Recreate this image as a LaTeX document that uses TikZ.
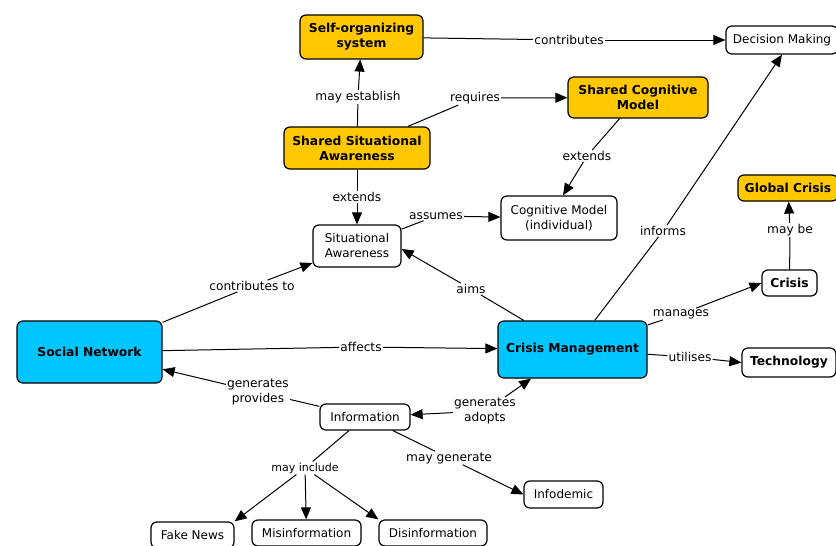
\documentclass[tikz,border=0pt]{standalone}
\usepackage{fontspec}
\setmainfont{DejaVu Sans}
\usetikzlibrary{arrows.meta,calc}
\definecolor{goldc}{RGB}{255,200,0}
\definecolor{cyanc}{RGB}{0,197,255}
\newcommand{\fsz}{\fontsize{12}{15}\selectfont}
\newcommand{\fsb}{\fontsize{12.3}{15}\selectfont\bfseries}
\newcommand{\fsl}{\fontsize{12.2}{14.5}\selectfont}
\newcommand{\fsm}{\fontsize{11}{13}\selectfont}
\begin{document}
\begin{tikzpicture}[x=1pt,y=-1pt,
  box/.style={draw, line width=1.2pt, rounded corners=6pt, inner sep=1pt, align=center, font=\fsz},
  goldbox/.style={box, fill=goldc, font=\fsb},
  cyanbox/.style={box, fill=cyanc, font=\fsb},
  boldbox/.style={box, font=\fsb},
  lbl/.style={fill=white, inner sep=1pt, font=\fsl, align=center},
  ln/.style={line width=1pt},
  arr/.style={line width=1pt, -{Triangle[length=12pt,width=10pt]}}]
\useasboundingbox (0,0) rectangle (836,546);
\fill[white] (0,0) rectangle (836,546);
% nodes
\node[goldbox, minimum width=123, minimum height=44] (selforg) at (361.5,37) {Self-organizing\\system};
\node[box, minimum width=112, minimum height=28] (dm) at (782,40) {Decision Making};
\node[goldbox, minimum width=140, minimum height=41] (scm) at (638,97.5) {Shared Cognitive\\Model};
\node[goldbox, minimum width=146, minimum height=42] (ssa) at (357,148) {Shared Situational\\Awareness};
\node[box, minimum width=116, minimum height=44] (cm) at (559,218) {Cognitive Model\\(individual)};
\node[goldbox, minimum width=100, minimum height=26] (gc) at (788,188) {Global Crisis};
\node[box, minimum width=88, minimum height=42] (sa) at (357,246) {Situational\\Awareness};
\node[boldbox, minimum width=55, minimum height=26] (crisis) at (789.5,283) {Crisis};
\node[cyanbox, minimum width=145, minimum height=62] (sn) at (89.5,352) {Social Network};
\node[cyanbox, minimum width=149, minimum height=57] (cmg) at (572.5,349.5) {Crisis Management};
\node[boldbox, minimum width=94, minimum height=29] (tech) at (789,362.5) {Technology};
\node[box, minimum width=90, minimum height=26] (info) at (365,417) {Information};
\node[box, minimum width=79, minimum height=27] (infod) at (563.5,494.5) {Infodemic};
\node[box, minimum width=83, minimum height=26] (fake) at (192.5,535) {Fake News};
\node[box, minimum width=109, minimum height=26] (misinfo) at (306.5,533) {Misinformation};
\node[box, minimum width=108, minimum height=26] (disinfo) at (433,533) {Disinformation};
% labels
\node[lbl] (lcontrib) at (569,40) {contributes};
\node[lbl] (lmayest) at (358,97) {may establish};
\node[lbl] (lreq) at (475,98) {requires};
\node[lbl] (lext1) at (587,156) {extends};
\node[lbl] (lext2) at (357,197) {extends};
\node[lbl] (lassumes) at (436,216) {assumes};
\node[lbl] (linforms) at (663,231) {informs};
\node[lbl] (lmaybe) at (790,230) {may be};
\node[lbl] (lcontto) at (252,286) {contributes to};
\node[lbl] (laims) at (471,289) {aims};
\node[lbl] (lmanages) at (681,314) {manages};
\node[lbl] (laffects) at (361,347) {affects};
\node[lbl] (lutil) at (690,357) {utilises};
\node[lbl] (lgenprov) at (258,392) {generates\\provides};
\node[lbl] (lgenadopt) at (485,411) {generates\\adopts};
\node[lbl, font=\fsm] (lmayinc) at (305,468) {may include};
\node[lbl] (lmaygen) at (449,458) {may generate};
% connectors
\draw[ln] (selforg) -- (lcontrib);
\draw[arr] (lcontrib) -- (dm);
\draw[ln] (ssa) -- (lmayest);
\draw[arr] (lmayest) -- (selforg);
\draw[ln] (ssa) -- (lreq);
\draw[arr] (lreq) -- (scm);
\draw[ln] (scm) -- (lext1);
\draw[arr] (lext1) -- ($(cm.north)+(4,0)$);
\draw[ln] (ssa) -- (lext2);
\draw[arr] (lext2) -- (sa);
\draw[ln] (sa) -- (lassumes);
\draw[arr] (lassumes) -- (cm);
\draw[ln] (cmg) -- (linforms);
\draw[arr] (linforms) -- (dm.south);
\draw[ln] (crisis) -- (lmaybe);
\draw[arr] (lmaybe) -- (gc);
\draw[ln] (sn) -- (lcontto);
\draw[arr] (lcontto) -- (sa);
\draw[ln] (cmg) -- (laims);
\draw[arr] (laims) -- ($(sa.east)+(0,3)$);
\draw[ln] (cmg) -- (lmanages);
\draw[arr] (lmanages) -- (crisis.west);
\draw[ln] (sn) -- (laffects);
\draw[arr] (laffects) -- (cmg);
\draw[ln] (cmg) -- (lutil);
\draw[arr] (lutil) -- (tech.west);
\draw[ln] (info) -- (lgenprov);
\draw[arr] (lgenprov) -- (sn);
\draw[arr] (lgenadopt) -- (info);
\draw[arr] (lgenadopt) -- (cmg);
\draw[ln] (info) -- (lmayinc);
\draw[arr] (lmayinc) -- (fake.north east);
\draw[arr] (lmayinc) -- (misinfo);
\draw[arr] (lmayinc) -- (disinfo.north west);
\draw[ln] (info) -- (lmaygen);
\draw[arr] (lmaygen) -- (infod.west);
\end{tikzpicture}
\end{document}
